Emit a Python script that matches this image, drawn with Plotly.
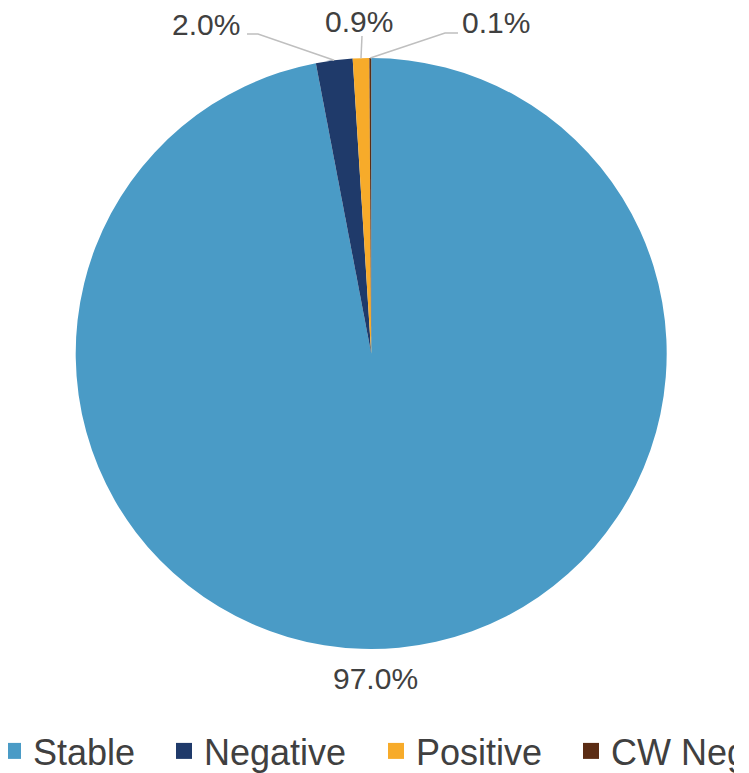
import math
import plotly.graph_objects as go

labels = ["Stable", "Negative", "Positive", "CW Neg"]
values = [97.0, 2.0, 0.9, 0.1]
colors = ["#4a9bc6", "#1f3a6a", "#f7ab2a", "#5b2c14"]
legend_widths = [126, 167, 150, 118]

# the page adds an 8px body margin, so the figure is drawn 8px smaller
OFF = 8
W, H = 749 - OFF, 773 - OFF

def px(x, y):
    """reference-page pixel -> paper fraction"""
    return (x - OFF) / W, 1 - (y - OFF) / H

# pie placement (reference pixels): centre and radius
pie_cx, pie_cy, pie_r = 371.2, 353.5, 295.5
x0, y1 = px(pie_cx - pie_r, pie_cy - pie_r)
x1, y0 = px(pie_cx + pie_r, pie_cy + pie_r)
dom_x = [x0, x1]
dom_y = [y0, y1]

fig = go.Figure()
fig.add_trace(go.Pie(
    labels=labels,
    values=values,
    sort=False,
    direction="clockwise",
    rotation=0,
    marker=dict(colors=colors, line=dict(width=0)),
    textinfo="none",
    hoverinfo="label+percent",
    domain=dict(x=dom_x, y=dom_y),
    showlegend=False,
))

# legend entries (square swatches)
for lab, col, lw in zip(labels, colors, legend_widths):
    fig.add_trace(go.Scatter(
        x=[None], y=[None], mode="markers", name=lab,
        marker=dict(symbol="square", size=16, color=col),
        legendwidth=lw, hoverinfo="skip",
    ))

# geometry of pie in pixels (derived from domain)
cx = (dom_x[0] + dom_x[1]) / 2 * W + OFF
cy = (1 - (dom_y[0] + dom_y[1]) / 2) * H + OFF
r = min((dom_x[1] - dom_x[0]) * W, (dom_y[1] - dom_y[0]) * H) / 2

# label placement styles: (text centre, leader start, elbow) in reference pixels
label_style = [
    dict(text=(375.5, 678), line=None),
    dict(text=(206, 24.5), line=[(247, 34), (258, 34)]),
    dict(text=(359.4, 21), line=[(362, 36)]),
    dict(text=(496.5, 22.5), line=[(458, 33), (445, 33)]),
]

total = sum(values)
cum = 0.0
for v, st in zip(values, label_style):
    mid = (cum + v / 2) / total * 2 * math.pi
    cum += v
    ex = cx + r * math.sin(mid)
    ey = cy - r * math.cos(mid)
    tx, ty = px(*st["text"])
    fig.add_annotation(
        x=tx, y=ty, xref="paper", yref="paper", showarrow=False,
        text=f"{v / total * 100:.1f}%",
        font=dict(family="Liberation Sans, Arial", size=30, color="#404040"),
        xanchor="center", yanchor="middle",
    )
    if st["line"]:
        pts = [px(*p) for p in st["line"]] + [px(ex, ey)]
        path = "M " + " L ".join(f"{a},{b}" for a, b in pts)
        fig.add_shape(type="path", path=path, xref="paper", yref="paper",
                      line=dict(color="#bfbfbf", width=1.5))

fig.update_layout(
    width=W, height=H,
    margin=dict(l=0, r=0, t=0, b=0, autoexpand=False),
    paper_bgcolor="white",
    plot_bgcolor="white",
    xaxis=dict(visible=False),
    yaxis=dict(visible=False),
    legend=dict(
        orientation="h",
        x=-15 / W, xanchor="left",
        y=-OFF / H, yanchor="bottom",
        font=dict(family="Liberation Sans, Arial", size=36, color="#404040"),
        itemwidth=30,
        itemsizing="trace",
        traceorder="normal",
        bgcolor="rgba(0,0,0,0)",
    ),
)

fig.write_html("out.html")
